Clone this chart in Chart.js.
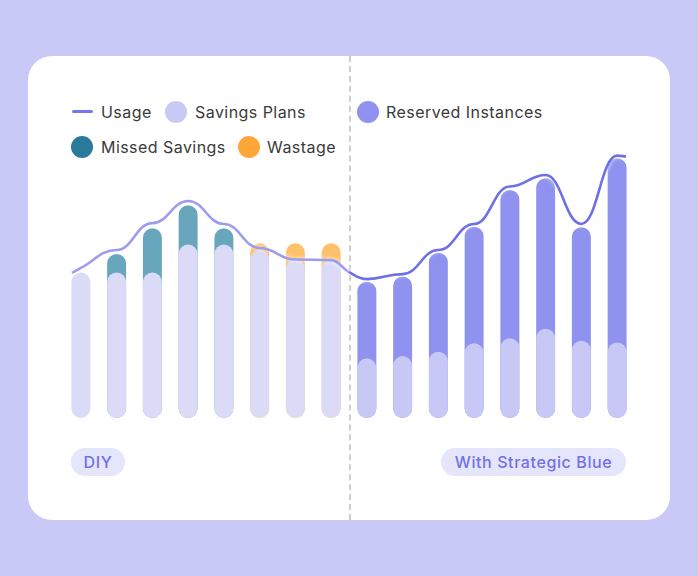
<!DOCTYPE html>
<html lang="en">
<head>
  <meta charset="UTF-8" />
  <title>DIY vs With Strategic Blue</title>
  <script src="https://cdn.jsdelivr.net/npm/chart.js"></script>
  <style>
    body { margin: 0; background: #c9c9f8; font-family: "Inter", "Noto Sans", sans-serif; }
    #page { position: relative; width: 698px; height: 576px; overflow: hidden; }
    #card { position: absolute; left: 28px; top: 56px; width: 642px; height: 464px; background: #fff; border-radius: 24px; }
    #divider { position: absolute; left: 349px; top: 56px; height: 464px; border-left: 2px dashed #cfcfcf; }
    .lg { position: absolute; font-size: 16px; line-height: 22px; color: #3a3a3a; letter-spacing: 0.45px; white-space: nowrap; }
    .dot { position: absolute; width: 22px; height: 22px; border-radius: 50%; }
    .pill { position: absolute; height: 28px; line-height: 28px; border-radius: 14px; background: #e5e5fb;
            color: #7070e8; font-size: 16px; font-weight: 500; letter-spacing: 0.6px; text-align: center; white-space: nowrap; }
    #chartBox { position: absolute; left: 63px; top: 138px; width: 572px; height: 280px; }
  </style>
</head>
<body>
<div id="page">
  <div id="card"></div>
  <div id="divider"></div>

  <!-- legend -->
  <div style="position:absolute;left:72px;top:110px;width:21px;height:3px;background:#7676ee;border-radius:2px"></div>
  <div class="lg" style="left:101px;top:101px">Usage</div>
  <div class="dot" style="left:165px;top:101px;background:#c9c9f7"></div>
  <div class="lg" style="left:195px;top:101px">Savings Plans</div>
  <div class="dot" style="left:357px;top:101px;background:#8f93ef"></div>
  <div class="lg" style="left:386px;top:101px">Reserved Instances</div>
  <div class="dot" style="left:71px;top:136px;background:#2a7b9b"></div>
  <div class="lg" style="left:101px;top:136px">Missed Savings</div>
  <div class="dot" style="left:238px;top:136px;background:#ffa638"></div>
  <div class="lg" style="left:267px;top:136px">Wastage</div>

  <div id="chartBox"><canvas id="myChart"></canvas></div>

  <div class="pill" style="left:71px;top:448px;width:54px">DIY</div>
  <div class="pill" style="left:441px;top:448px;width:185px">With Strategic Blue</div>
</div>

<script>
  // 8 months DIY, then 8 months with Strategic Blue
  const labels = ['1', '2', '3', '4', '5', '6', '7', '8', '9', '10', '11', '12', '13', '14', '15', '16'];
  const savingsPlans = [52, 52, 52, 62, 62, 60, 56.8, 56.4, 21.3, 22.1, 23.7, 26.7, 28.5, 31.9, 27.6, 27];
  const missedSavings = [null, 6.6, 15.8, 14, 5.8, null, null, null, null, null, null, null, null, null, null, null];
  const wastage = [null, null, null, null, null, 2.4, 5.6, 6, null, null, null, null, null, null, null, null];
  const reservedInstances = [null, null, null, null, null, null, null, null, 27.4, 28.4, 35.3, 41.6, 52.9, 53.7, 40.5, 65.8];
  const usage = [53.6, 60, 69.6, 77.5, 69.3, 60.7, 56.6, 56.4, 49.6, 51.4, 60, 69.3, 82.7, 86.8, 69.3, 93.7];
  const usageStart = 51.8;   // left edge of first bar
  const usageAtSplit = 52.1; // at the dashed divider
  const usageEnd = 93.4;     // right edge of last bar

  // bars overlap: the coloured top bar runs from 0 to the total, savings plans drawn over it
  const topOf = (extra) => extra.map((v, i) => v == null ? null : savingsPlans[i] + v);

  const usagePoints = [{ x: -0.25, y: usageStart }];
  usage.forEach((v, i) => {
    usagePoints.push({ x: i, y: v });
    if (i === 7) usagePoints.push({ x: 7.5, y: usageAtSplit });
  });
  usagePoints.push({ x: 15.25, y: usageEnd });

  // usage curve has flat shoulders at the months: horizontal tangents on those points,
  // plus a soft white halo under the line
  const flatTangents = {
    id: 'flatTangents',
    beforeDatasetDraw(chart, args) {
      const meta = args.meta;
      if (meta.type !== 'line') return;
      meta.dataset.updateControlPoints(chart.chartArea, meta.indexAxis);
      const pts = meta.data;
      const k = 0.45;
      pts.forEach((p, i) => {
        const x = usagePoints[i].x;
        if (!Number.isInteger(x) || x === 0) return;
        const prev = pts[i - 1], next = pts[i + 1];
        p.cp1x = prev ? p.x - (p.x - prev.x) * k : p.x;
        p.cp1y = p.y;
        p.cp2x = next ? p.x + (next.x - p.x) * k : p.x;
        p.cp2y = p.y;
      });
      const c = chart.ctx;
      c.save();
      c.shadowColor = 'rgba(255,255,255,0.95)';
      c.shadowBlur = 4;
    },
    afterDatasetDraw(chart, args) {
      if (args.meta.type === 'line') chart.ctx.restore();
    }
  };

  const barStyle = {
    type: 'bar',
    grouped: false,
    barPercentage: 0.53,
    categoryPercentage: 1,
    borderRadius: 10,
    borderSkipped: false
  };

  const ctx = document.getElementById('myChart').getContext('2d');
  new Chart(ctx, {
    data: {
      labels: labels,
      datasets: [
        {
          type: 'line',
          label: 'Usage',
          xAxisID: 'x2',
          data: usagePoints,
          order: 0,
          tension: 0.4,
          borderWidth: 2.6,
          pointRadius: 0,
          clip: false,
          borderColor: '#6f6fe7',
          segment: {
            borderColor: c => c.p0.parsed.x >= 7.5 ? '#6f6fe7' : '#9d9cf1'
          }
        },
        Object.assign({
          label: 'Savings Plans',
          data: savingsPlans,
          order: 1,
          backgroundColor: savingsPlans.map((_, i) => i < 8 ? '#dbdbf8' : '#c8c8f6')
        }, barStyle),
        Object.assign({
          label: 'Missed Savings',
          data: topOf(missedSavings),
          order: 2,
          backgroundColor: '#67a6bd'
        }, barStyle),
        Object.assign({
          label: 'Wastage',
          data: topOf(wastage),
          order: 2,
          backgroundColor: '#ffc06a'
        }, barStyle),
        Object.assign({
          label: 'Reserved Instances',
          data: topOf(reservedInstances),
          order: 2,
          backgroundColor: '#8f93ef'
        }, barStyle)
      ]
    },
    options: {
      responsive: true,
      maintainAspectRatio: false,
      animation: false,
      layout: { padding: 0 },
      plugins: {
        legend: { display: false },
        tooltip: { enabled: false }
      },
      scales: {
        x: { display: false, offset: true },
        x2: { type: 'linear', display: false, min: -0.5, max: 15.5 },
        y: { display: false, min: 0, max: 100 }
      }
    },
    plugins: [flatTangents]
  });
</script>
</body>
</html>
